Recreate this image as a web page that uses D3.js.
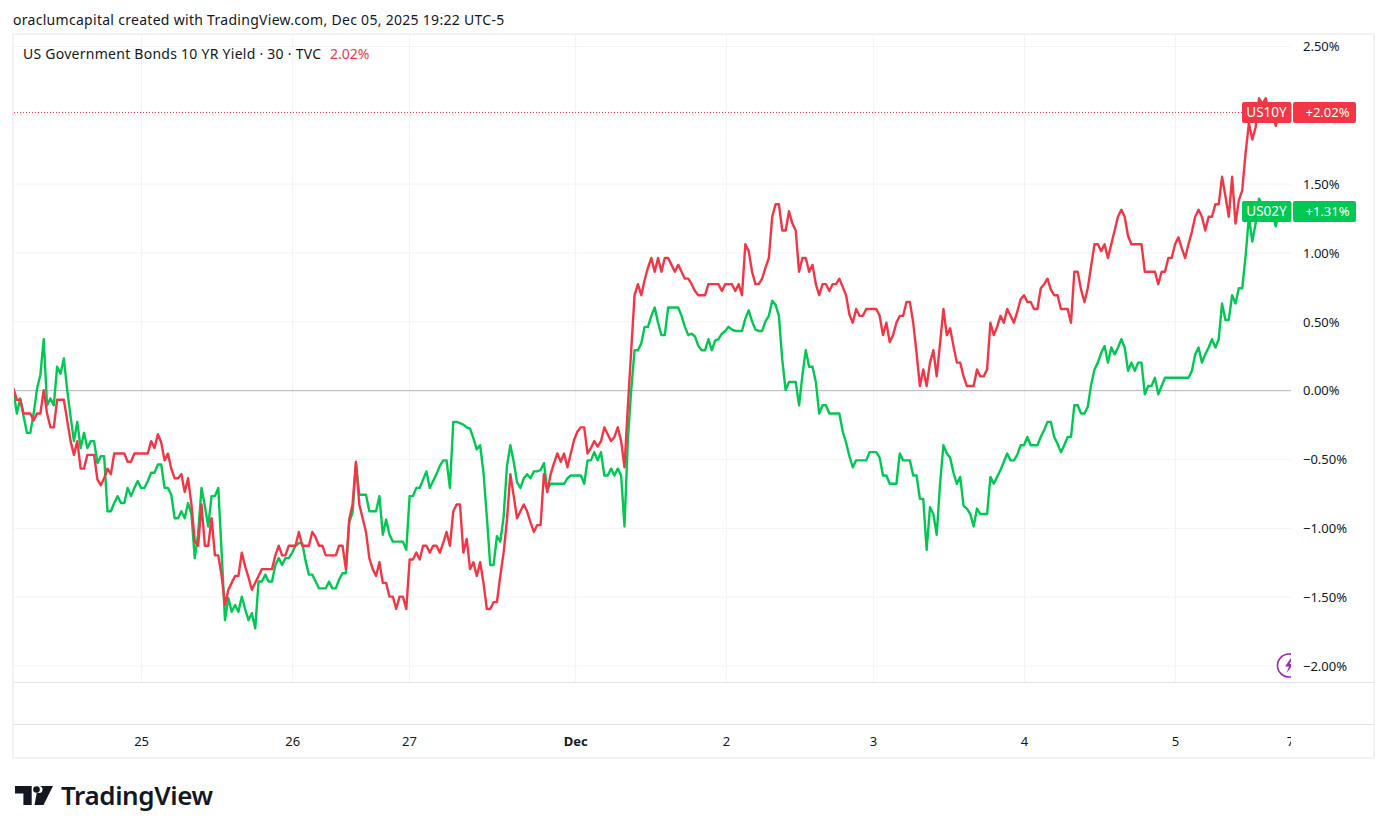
<!DOCTYPE html>
<html><head><meta charset="utf-8">
<script src="https://cdn.jsdelivr.net/npm/d3@7"></script>
<style>
html,body{margin:0;padding:0;background:#fff}
svg{display:block}
text{font-family:"Noto Sans",sans-serif;fill:#131722}
</style></head><body>
<svg id="c" width="1387" height="834"></svg>
<script>
const us02y=[
-0.01,-0.17,-0.06,-0.19,-0.31,-0.31,-0.17,0.01,0.11,0.37,
-0.11,-0.06,-0.11,0.17,0.12,0.23,0,-0.19,-0.37,-0.23,
-0.42,-0.31,-0.42,-0.37,-0.37,-0.53,-0.48,-0.48,-0.88,-0.88,
-0.82,-0.77,-0.82,-0.82,-0.71,-0.77,-0.71,-0.66,-0.71,-0.71,
-0.66,-0.6,-0.6,-0.54,-0.54,-0.71,-0.71,-0.76,-0.93,-0.93,
-0.88,-0.93,-0.82,-0.9,-1.22,-1.04,-0.71,-0.84,-0.99,-0.77,
-0.77,-0.71,-1.18,-1.67,-1.51,-1.61,-1.56,-1.61,-1.5,-1.59,
-1.67,-1.62,-1.73,-1.39,-1.39,-1.34,-1.39,-1.39,-1.27,-1.22,
-1.27,-1.22,-1.22,-1.18,-1.13,-1.11,-1.11,-1.24,-1.34,-1.34,
-1.39,-1.44,-1.44,-1.44,-1.39,-1.44,-1.44,-1.375,-1.33,-1.33,
-0.96,-0.89,-0.53,-0.76,-0.76,-0.76,-0.88,-0.88,-0.88,-0.77,
-1.05,-0.94,-1.05,-1.1,-1.1,-1.1,-1.1,-1.16,-0.77,-0.77,
-0.71,-0.71,-0.65,-0.59,-0.71,-0.66,-0.61,-0.55,-0.51,-0.51,
-0.71,-0.23,-0.23,-0.24,-0.25,-0.27,-0.28,-0.35,-0.43,-0.4,
-0.6,-0.92,-1.27,-1.27,-1.06,-1.1,-0.92,-0.55,-0.4,-0.52,
-0.67,-0.71,-0.64,-0.61,-0.64,-0.59,-0.59,-0.58,-0.53,-0.72,
-0.68,-0.68,-0.68,-0.68,-0.68,-0.64,-0.62,-0.62,-0.62,-0.62,
-0.68,-0.51,-0.51,-0.45,-0.51,-0.45,-0.62,-0.62,-0.57,-0.62,
-0.57,-0.62,-0.99,-0.36,0,0.29,0.29,0.34,0.46,0.46,
0.54,0.6,0.49,0.4,0.4,0.6,0.6,0.6,0.6,0.54,
0.46,0.4,0.41,0.39,0.32,0.29,0.29,0.37,0.29,0.36,
0.37,0.41,0.43,0.46,0.44,0.43,0.43,0.43,0.52,0.58,
0.5,0.44,0.43,0.43,0.5,0.54,0.65,0.62,0.54,0.22,
0,0.06,0.06,0.06,-0.11,0.11,0.29,0.17,0.17,0.06,
-0.17,-0.11,-0.11,-0.17,-0.17,-0.17,-0.17,-0.3,-0.38,-0.48,
-0.56,-0.51,-0.51,-0.51,-0.51,-0.45,-0.45,-0.45,-0.49,-0.62,
-0.62,-0.68,-0.68,-0.68,-0.46,-0.51,-0.51,-0.51,-0.62,-0.62,
-0.79,-0.79,-1.16,-0.85,-0.9,-1.05,-0.68,-0.4,-0.46,-0.49,
-0.6,-0.68,-0.63,-0.84,-0.86,-0.9,-0.99,-0.86,-0.9,-0.9,
-0.9,-0.63,-0.68,-0.63,-0.58,-0.52,-0.46,-0.51,-0.51,-0.47,
-0.4,-0.4,-0.34,-0.4,-0.4,-0.4,-0.34,-0.29,-0.23,-0.23,
-0.34,-0.39,-0.45,-0.4,-0.34,-0.34,-0.11,-0.11,-0.17,-0.17,
-0.12,0.04,0.15,0.2,0.27,0.32,0.2,0.31,0.26,0.31,
0.37,0.31,0.14,0.2,0.14,0.2,0.2,-0.03,0.03,0.03,
0.09,-0.03,0.03,0.09,0.09,0.09,0.09,0.09,0.09,0.09,
0.09,0.14,0.26,0.31,0.2,0.26,0.31,0.37,0.31,0.37,
0.63,0.51,0.51,0.69,0.63,0.74,0.74,0.97,1.26,1.08,
1.21,1.39,1.35,1.35,1.35,1.29,1.19,1.3,1.3];
const us10y=[
0.01,-0.07,-0.07,-0.17,-0.17,-0.17,-0.22,-0.17,-0.17,0,
-0.17,-0.27,-0.27,-0.07,-0.07,-0.07,-0.22,-0.37,-0.47,-0.37,
-0.57,-0.57,-0.47,-0.47,-0.47,-0.65,-0.69,-0.64,-0.57,-0.61,
-0.46,-0.46,-0.46,-0.46,-0.52,-0.52,-0.46,-0.46,-0.46,-0.46,
-0.46,-0.37,-0.42,-0.32,-0.38,-0.51,-0.46,-0.57,-0.64,-0.64,
-0.61,-0.74,-0.64,-0.83,-1.1,-1.13,-0.83,-1.13,-1.13,-0.93,
-1.2,-1.2,-1.35,-1.56,-1.45,-1.4,-1.35,-1.35,-1.18,-1.28,
-1.36,-1.45,-1.4,-1.35,-1.3,-1.3,-1.3,-1.3,-1.2,-1.13,
-1.2,-1.2,-1.13,-1.13,-1.13,-1.03,-1.13,-1.13,-1.13,-1.03,
-1.07,-1.13,-1.13,-1.2,-1.2,-1.2,-1.2,-1.13,-1.13,-1.3,
-0.94,-0.83,-0.52,-0.83,-0.93,-1.03,-1.22,-1.3,-1.35,-1.25,
-1.4,-1.4,-1.5,-1.5,-1.59,-1.5,-1.5,-1.59,-1.23,-1.23,
-1.18,-1.23,-1.13,-1.13,-1.18,-1.13,-1.13,-1.18,-1.11,-1.03,
-1.13,-0.88,-0.83,-0.83,-1.18,-1.08,-1.3,-1.25,-1.35,-1.25,
-1.4,-1.59,-1.59,-1.54,-1.54,-1.35,-1.18,-0.94,-0.61,-0.77,
-0.93,-0.88,-0.83,-0.88,-0.96,-1.03,-0.98,-0.98,-0.61,-0.74,
-0.61,-0.53,-0.46,-0.52,-0.46,-0.56,-0.46,-0.36,-0.3,-0.27,
-0.27,-0.46,-0.42,-0.37,-0.41,-0.37,-0.27,-0.32,-0.37,-0.34,
-0.27,-0.37,-0.56,-0.12,0.29,0.69,0.77,0.69,0.8,0.89,
0.96,0.86,0.96,0.86,0.96,0.96,0.91,0.86,0.91,0.86,
0.81,0.81,0.77,0.72,0.69,0.69,0.69,0.77,0.77,0.77,
0.77,0.72,0.77,0.77,0.77,0.72,0.77,0.69,1.06,1.01,
0.86,0.77,0.77,0.81,0.89,0.96,1.26,1.35,1.35,1.16,
1.16,1.3,1.21,1.16,0.86,0.96,0.96,0.86,0.91,0.77,
0.69,0.77,0.77,0.72,0.77,0.77,0.81,0.75,0.69,0.55,
0.49,0.59,0.54,0.54,0.59,0.59,0.59,0.59,0.54,0.4,
0.49,0.35,0.4,0.49,0.54,0.54,0.64,0.64,0.49,0.27,
0.03,0.15,0.03,0.2,0.29,0.1,0.34,0.59,0.4,0.45,
0.32,0.2,0.2,0.1,0.03,0.03,0.03,0.15,0.1,0.1,
0.15,0.49,0.4,0.46,0.54,0.49,0.59,0.54,0.49,0.57,
0.66,0.69,0.64,0.64,0.59,0.59,0.74,0.77,0.81,0.73,
0.69,0.69,0.59,0.59,0.59,0.49,0.86,0.86,0.73,0.64,
0.74,0.9,1.06,1.06,1.01,1.06,0.96,1.06,1.16,1.26,
1.31,1.26,1.12,1.06,1.06,1.06,1.06,0.86,0.86,0.86,
0.86,0.77,0.86,0.86,0.96,0.96,1.06,1.11,1.03,0.96,
1.06,1.15,1.26,1.31,1.26,1.16,1.26,1.26,1.35,1.35,
1.55,1.41,1.26,1.55,1.21,1.38,1.45,1.72,1.94,1.82,
1.91,2.12,2.08,2.12,2.02,2.01,1.92,2.02,2.02];
const dayBars=[38,83,117.8,167.3,212.2,256,301,346,380.2];
const dayLabels=["25","26","27","Dec","2","3","4","5","7"];
const gridValues=[-2,-1.5,-1,-0.5,0.5,1,1.5,2,2.5];
const axisValues=[-2,-1.5,-1,-0.5,0,0.5,1,1.5,2.5];
const RED="#f23645", GREEN="#00c853", GRID="#f3f3f4", SEP="#e0e3eb";

const svg=d3.select("#c");
const L=14,R=1291,T=35,B=682,AR=1373,TB=724;
const x=d3.scaleLinear().domain([0,380]).range([13.5,1289.2]);
const y=d3.scaleLinear().domain([-2,2.5]).range([665.5,46]);
const defs=svg.append("defs");
defs.append("clipPath").attr("id","pane").append("rect").attr("x",L).attr("y",T).attr("width",R-L).attr("height",B-T);
defs.append("clipPath").attr("id","time").append("rect").attr("x",L).attr("y",TB).attr("width",R-L).attr("height",34);

// frame
svg.append("rect").attr("x",13).attr("y",34).attr("width",1361).attr("height",724)
  .attr("fill","#fff").attr("stroke","#f2f2f3").attr("stroke-width",2);

// grid
const gy=svg.append("g").attr("transform",`translate(${L},0)`)
  .call(d3.axisRight(y).tickValues(gridValues).tickSize(R-L).tickFormat(""));
gy.select(".domain").remove();
gy.selectAll("line").attr("stroke",GRID);
const gx=svg.append("g").attr("transform",`translate(0,${T})`)
  .call(d3.axisBottom(x).tickValues(dayBars.slice(0,-1)).tickSize(B-T).tickFormat(""));
gx.select(".domain").remove();
gx.selectAll("line").attr("stroke",GRID);

// zero line
const gz=svg.append("g").attr("transform",`translate(${L},0)`)
  .call(d3.axisRight(y).tickValues([0]).tickSize(R-L).tickFormat(""));
gz.select(".domain").remove();
gz.selectAll("line").attr("stroke","#b2b5be");

// last price dotted line
const lastY=Math.round(y(us10y[us10y.length-1]))+.5;
svg.append("line").attr("x1",L).attr("x2",1242).attr("y1",lastY).attr("y2",lastY)
  .attr("stroke",RED).attr("stroke-dasharray","1 2");

// series
const line=d3.line().x((d,i)=>x(i)).y(d=>y(d)).curve(d3.curveLinear);
const plot=svg.append("g").attr("clip-path","url(#pane)");
[[us02y,GREEN],[us10y,RED]].forEach(([s,c])=>{
  plot.append("path").datum(s).attr("d",line).attr("fill","none").attr("stroke",c)
    .attr("stroke-width",2.4).attr("stroke-linejoin","round").attr("stroke-linecap","round");
});

// separators
[B+.5,TB+.5].forEach(v=>svg.append("line").attr("x1",L).attr("x2",AR).attr("y1",v).attr("y2",v).attr("stroke",SEP));

// y axis labels
const ay=svg.append("g").attr("transform",`translate(${R},0.6)`)
  .call(d3.axisRight(y).tickValues(axisValues).tickSize(0).tickPadding(12).tickFormat(d=>d3.format(".2f")(d)+"%"));
ay.select(".domain").remove();
ay.selectAll("text").attr("font-size",13).attr("font-family",'"Noto Sans",sans-serif').style("fill","#131722");

// x axis labels
const ax=svg.append("g").attr("clip-path","url(#time)").append("g").attr("transform",`translate(0,${TB})`)
  .call(d3.axisBottom(x).tickValues(dayBars).tickSize(0).tickPadding(13).tickFormat((d,i)=>dayLabels[i]));
ax.select(".domain").remove();
ax.selectAll("text").attr("font-size",13).attr("font-family",'"Noto Sans",sans-serif').style("fill","#131722")
  .attr("font-weight",(d,i)=>dayLabels[i]==="Dec"?700:400);

// badges
function badge(v,name,col,val){
  const cy=Math.round(y(v))+.5;
  const g=svg.append("g");
  g.append("rect").attr("x",1242).attr("y",cy-10.5).attr("width",49.5).attr("height",21).attr("rx",2).attr("fill",col);
  g.append("rect").attr("x",1293).attr("y",cy-10.5).attr("width",63).attr("height",21).attr("rx",2).attr("fill",col);
  g.append("text").attr("x",1266.5).attr("y",cy).attr("dy","0.35em").attr("text-anchor","middle").attr("font-size",13.5).style("fill","#fff").text(name);
  g.append("text").attr("x",1327.5).attr("y",cy).attr("dy","0.35em").attr("text-anchor","middle").attr("font-size",13).style("fill","#fff").text(val);
}
badge(us10y[us10y.length-1],"US10Y",RED,"+2.02%");
badge(us02y[us02y.length-1],"US02Y",GREEN,"+1.31%");

// purple icon
const ic=svg.append("g").attr("clip-path","url(#pane)");
ic.append("circle").attr("cx",1289).attr("cy",665.5).attr("r",11.5).attr("fill","#fff").attr("stroke","#9c27b0").attr("stroke-width",1.6);
ic.append("path").attr("d","M1291 658l-6 8.5h4l-2.5 6.5 7-9h-4l3-6z").attr("fill","#9c27b0");

// titles
svg.append("text").attr("x",13).attr("y",25).attr("font-size",14).attr("letter-spacing",0.29).text("oraclumcapital created with TradingView.com, Dec 05, 2025 19:22 UTC-5");
const leg=svg.append("text").attr("x",23).attr("y",59).attr("font-size",14);
leg.append("tspan").attr("letter-spacing",0.26).text("US Government Bonds 10 YR Yield · 30 · TVC");
leg.append("tspan").attr("x",330).style("fill",RED).text("2.02%");

// logo
const lg=svg.append("g").attr("fill","#131722");
lg.append("path").attr("d","M15 786h16.7v19h-8.3v-11.5h-8.4zM38 786h15l-9.5 19h-9z");
lg.append("circle").attr("cx",39).attr("cy",789.5).attr("r",3.5).attr("fill","#fff");
lg.append("circle").attr("cx",36.5).attr("cy",789.5).attr("r",3.3);
svg.append("text").attr("x",61).attr("y",805).attr("font-family","Inter").attr("font-weight",600).attr("font-size",26).attr("letter-spacing",-0.4).text("TradingView");
</script>
</body></html>
